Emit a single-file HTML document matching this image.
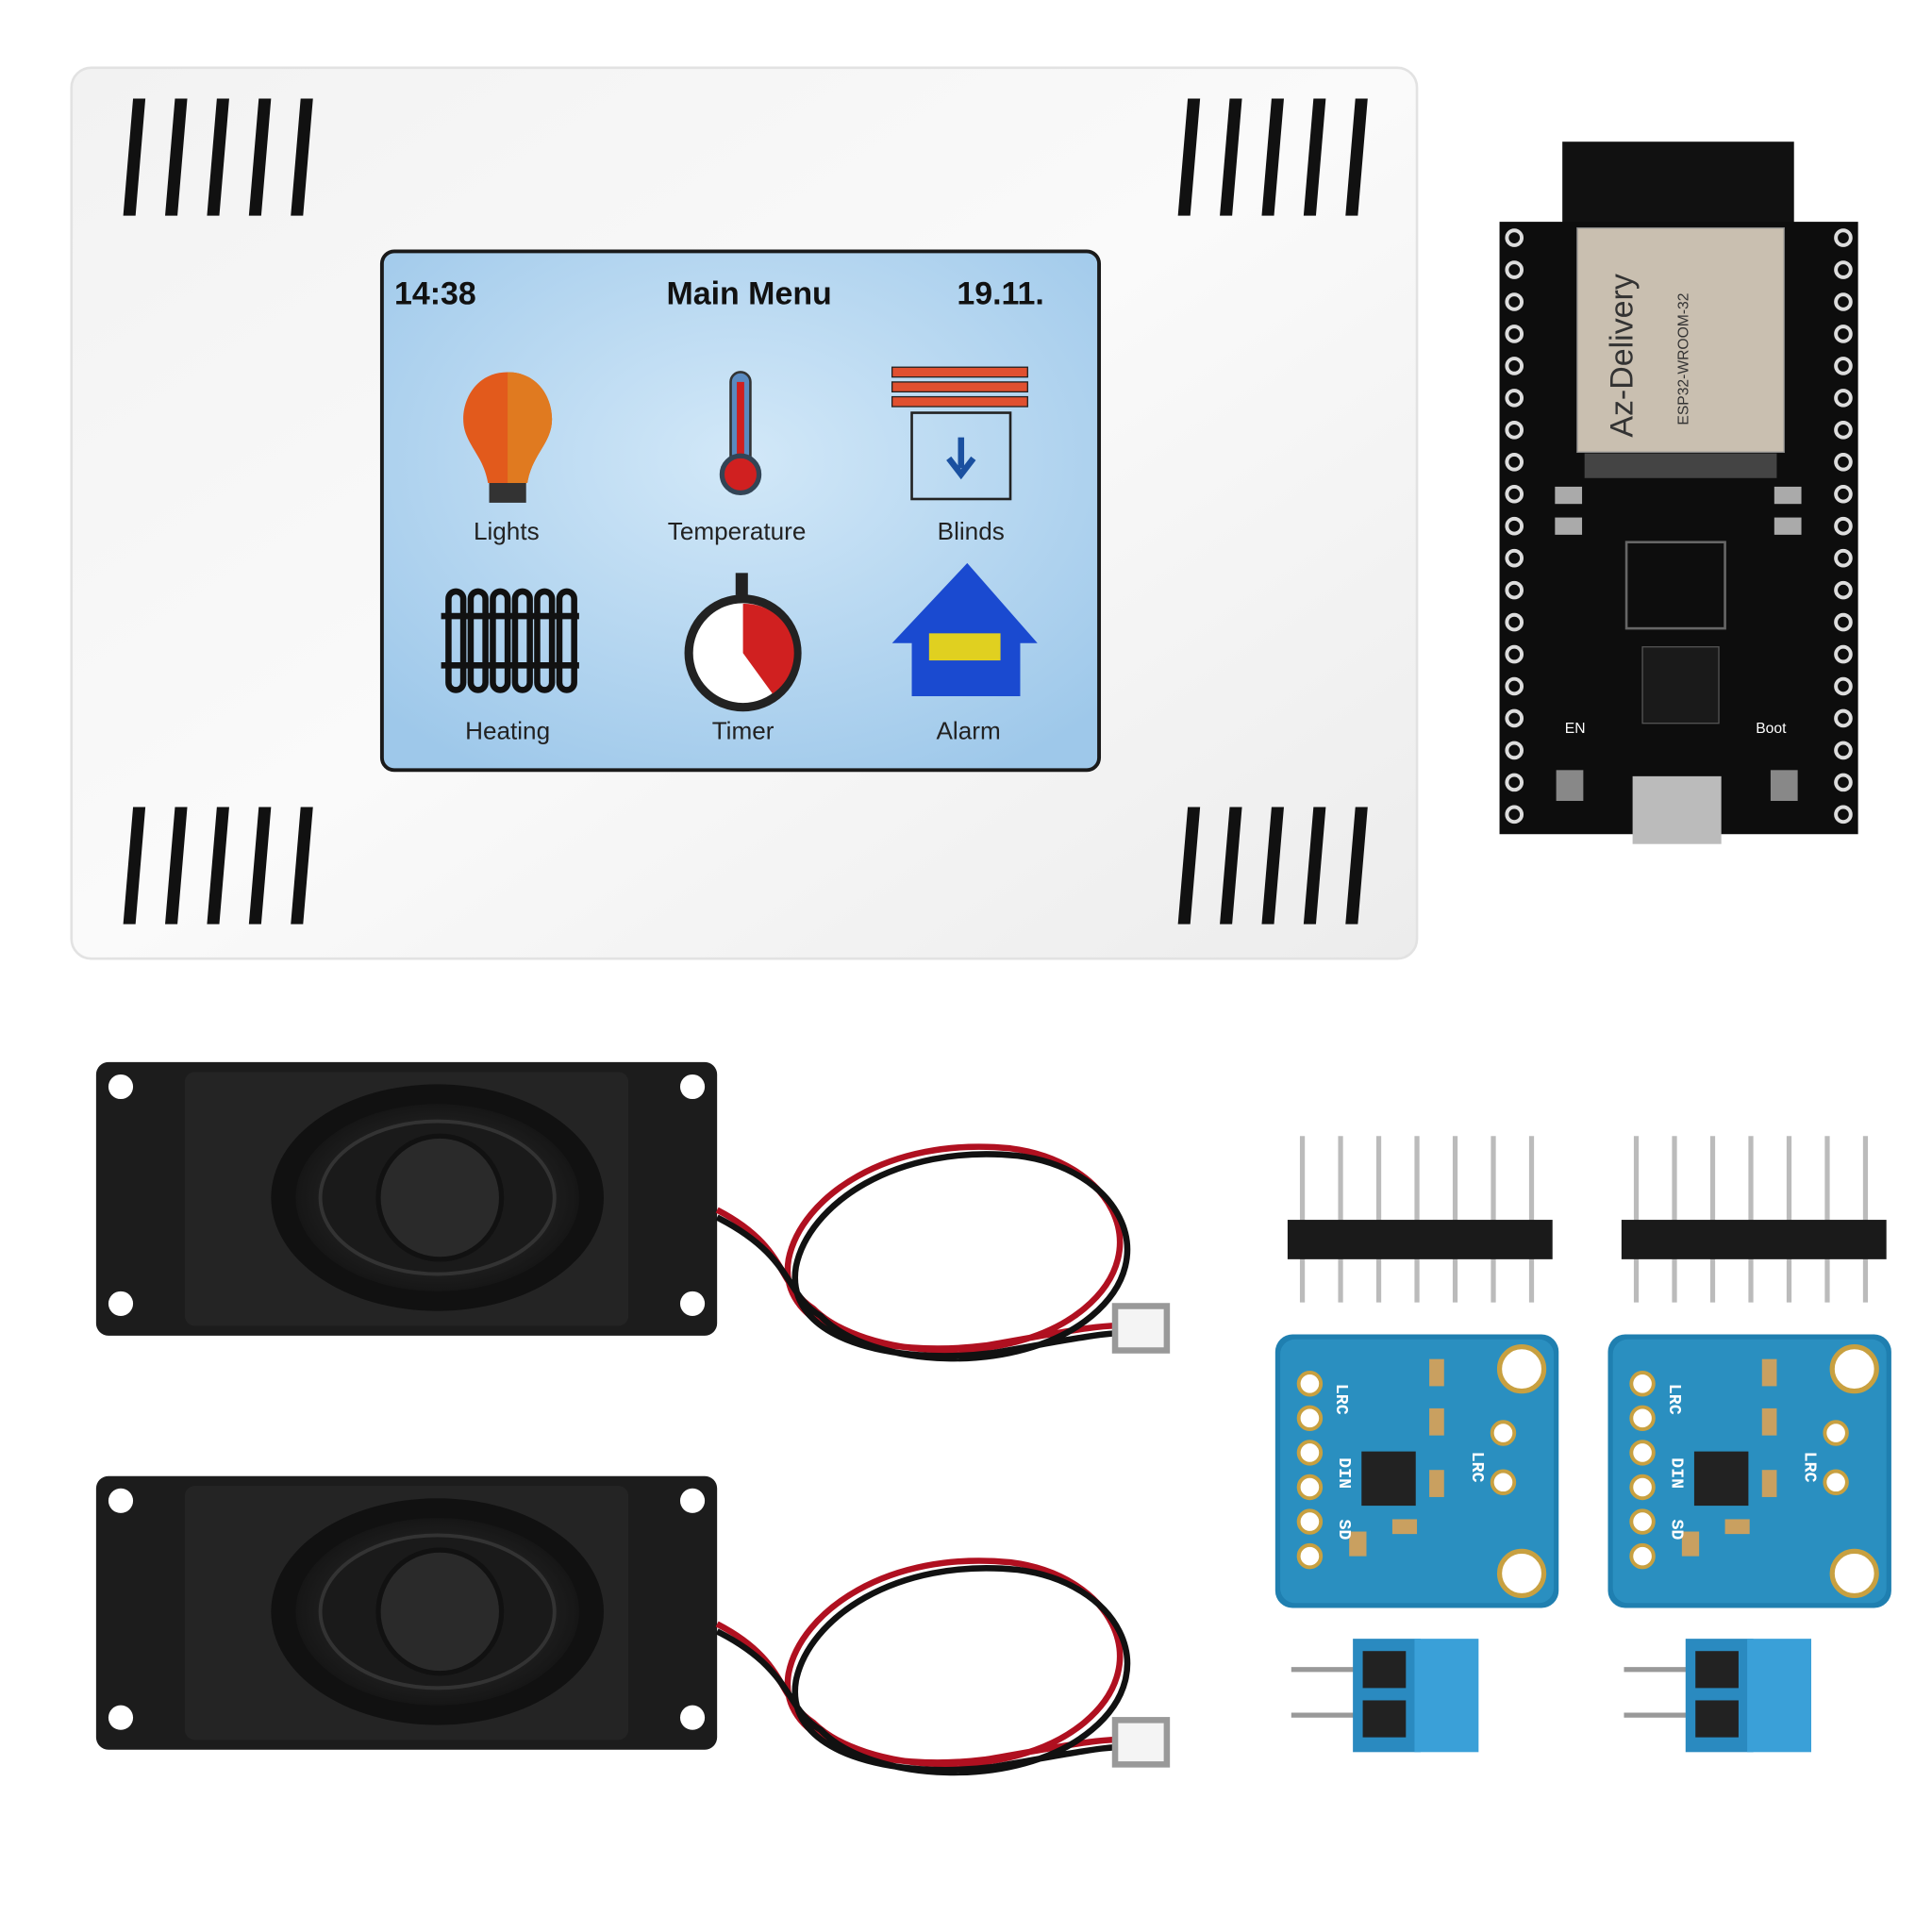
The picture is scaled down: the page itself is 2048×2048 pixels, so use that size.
<!DOCTYPE html>
<html><head><meta charset="utf-8"><style>html,body{margin:0;padding:0;background:#fff}svg{display:block}</style></head>
<body>
<svg width="2048" height="2048" viewBox="0 0 1568 1568" xmlns="http://www.w3.org/2000/svg" font-family="Liberation Sans, sans-serif">
<defs>
<linearGradient id="enc" x1="0" y1="0" x2="1" y2="1"><stop offset="0" stop-color="#f2f2f2"/><stop offset="0.5" stop-color="#fafafa"/><stop offset="1" stop-color="#ececec"/></linearGradient>
<radialGradient id="scr" cx="0.5" cy="0.4" r="0.7"><stop offset="0" stop-color="#d2e8f8"/><stop offset="1" stop-color="#9ec8ea"/></radialGradient>
<radialGradient id="spk" cx="0.5" cy="0.5" r="0.5"><stop offset="0" stop-color="#3a3a3a"/><stop offset="1" stop-color="#161616"/></radialGradient>
<g id="vent"><path d="M12 0 L22 0 L14 95 L4 95Z" fill="#111"/></g>
<g id="ventset"><use href="#vent" x="0"/><use href="#vent" x="34"/><use href="#vent" x="68"/><use href="#vent" x="102"/><use href="#vent" x="136"/></g>
<g id="speaker">
<rect x="78" y="0" width="504" height="222" rx="10" fill="#1c1c1c"/>
<rect x="150" y="8" width="360" height="206" rx="8" fill="#242424"/>
<circle cx="98" cy="20" r="10" fill="#fff"/><circle cx="98" cy="196" r="10" fill="#fff"/>
<circle cx="562" cy="20" r="10" fill="#fff"/><circle cx="562" cy="196" r="10" fill="#fff"/>
<ellipse cx="355" cy="110" rx="135" ry="92" fill="#111"/>
<ellipse cx="355" cy="110" rx="115" ry="76" fill="url(#spk)"/>
<ellipse cx="355" cy="110" rx="95" ry="62" fill="#1a1a1a" stroke="#333" stroke-width="3"/>
<circle cx="357" cy="110" r="50" fill="#2a2a2a" stroke="#111" stroke-width="4"/>
</g>
<g id="wires" fill="none" stroke-width="5">
<path d="M582 120 C640 150 630 180 660 200 C700 240 820 250 880 200 C940 150 900 80 820 70 C720 60 650 110 640 160 C630 220 720 240 800 230 C860 220 900 210 930 215" stroke="#b01020"/>
<path d="M582 126 C645 158 636 188 666 206 C706 248 826 256 886 206 C946 156 906 86 826 76 C726 66 656 116 646 166 C636 226 726 246 806 236 C866 226 906 216 930 221" stroke="#111"/>
<rect x="905" y="198" width="42" height="36" fill="#f4f4f4" stroke="#999"/>
</g>
<g id="amp">
<rect x="0" y="0" width="230" height="222" rx="14" fill="#1f7fb0"/>
<rect x="4" y="4" width="222" height="214" rx="12" fill="#2a8fc0"/>
<circle cx="200" cy="28" r="18" fill="#fff" stroke="#c8a040" stroke-width="4"/>
<circle cx="200" cy="194" r="18" fill="#fff" stroke="#c8a040" stroke-width="4"/>
<g fill="#fff" stroke="#c8a040" stroke-width="3"><circle cx="28" cy="40" r="9"/><circle cx="28" cy="68" r="9"/><circle cx="28" cy="96" r="9"/><circle cx="28" cy="124" r="9"/><circle cx="28" cy="152" r="9"/><circle cx="28" cy="180" r="9"/><circle cx="185" cy="80" r="9"/><circle cx="185" cy="120" r="9"/></g>
<rect x="70" y="95" width="44" height="44" fill="#222"/>
<g fill="#c9a060"><rect x="125" y="20" width="12" height="22"/><rect x="125" y="60" width="12" height="22"/><rect x="125" y="110" width="12" height="22"/><rect x="95" y="150" width="20" height="12"/><rect x="60" y="160" width="14" height="20"/></g>
<g fill="#fff" font-size="14" font-weight="bold" font-family="Liberation Mono, monospace"><text transform="translate(50 40) rotate(90)">LRC</text><text transform="translate(52 100) rotate(90)">DIN</text><text transform="translate(52 150) rotate(90)">SD</text><text transform="translate(160 95) rotate(90)">LRC</text></g>
</g>
<g id="hdr">
<g stroke="#bbb" stroke-width="4"><line x1="12" y1="0" x2="12" y2="135"/><line x1="43" y1="0" x2="43" y2="135"/><line x1="74" y1="0" x2="74" y2="135"/><line x1="105" y1="0" x2="105" y2="135"/><line x1="136" y1="0" x2="136" y2="135"/><line x1="167" y1="0" x2="167" y2="135"/><line x1="198" y1="0" x2="198" y2="135"/></g>
<rect x="0" y="68" width="215" height="32" fill="#1a1a1a"/>
</g>
<g id="term">
<line x1="0" y1="25" x2="60" y2="25" stroke="#999" stroke-width="4"/><line x1="0" y1="62" x2="60" y2="62" stroke="#999" stroke-width="4"/>
<rect x="50" y="0" width="55" height="92" fill="#2a8ac0"/>
<rect x="100" y="0" width="52" height="92" fill="#3aa0d8"/>
<rect x="58" y="10" width="35" height="30" fill="#222"/><rect x="58" y="50" width="35" height="30" fill="#222"/>
</g>
</defs>

<!-- enclosure -->
<rect x="58" y="55" width="1092" height="723" rx="16" fill="url(#enc)" stroke="#e2e2e2" stroke-width="2"/>
<use href="#ventset" x="96" y="80"/>
<use href="#ventset" x="952" y="80"/>
<use href="#ventset" x="96" y="655"/>
<use href="#ventset" x="952" y="655"/>
<rect x="310" y="204" width="582" height="421" rx="10" fill="url(#scr)" stroke="#1a1a1a" stroke-width="3"/>
<g font-weight="bold" font-size="26" fill="#111">
<text x="320" y="247">14:38</text><text x="608" y="247" text-anchor="middle">Main Menu</text><text x="812" y="247" text-anchor="middle">19.11.</text></g>
<g font-size="20" fill="#222" text-anchor="middle">
<text x="411" y="438">Lights</text><text x="598" y="438">Temperature</text><text x="788" y="438">Blinds</text>
<text x="412" y="600">Heating</text><text x="603" y="600">Timer</text><text x="786" y="600">Alarm</text></g>
<!-- bulb -->
<path d="M412 302 C388 302 376 322 376 340 C376 360 392 368 396 392 L428 392 C432 368 448 360 448 340 C448 322 436 302 412 302Z" fill="#e25a1c"/>
<path d="M412 302 C436 302 448 322 448 340 C448 360 432 368 428 392 L412 392Z" fill="#e07a20"/>
<rect x="397" y="392" width="30" height="16" fill="#333"/>
<!-- thermometer -->
<rect x="593" y="302" width="16" height="78" rx="8" fill="#5a8ac0" stroke="#333" stroke-width="2"/>
<rect x="598" y="310" width="6" height="70" fill="#d02020"/>
<circle cx="601" cy="385" r="15" fill="#d02020" stroke="#345" stroke-width="4"/>
<!-- blinds -->
<rect x="724" y="298" width="110" height="8" fill="#e05030" stroke="#222"/><rect x="724" y="310" width="110" height="8" fill="#e05030" stroke="#222"/><rect x="724" y="322" width="110" height="8" fill="#e05030" stroke="#222"/>
<rect x="740" y="335" width="80" height="70" fill="none" stroke="#222" stroke-width="2"/>
<path d="M780 355 V380 M770 372 L780 385 L790 372" stroke="#1a50a0" stroke-width="5" fill="none"/>
<!-- radiator -->
<g fill="none" stroke="#111" stroke-width="5"><rect x="364" y="480" width="12" height="80" rx="6"/><rect x="382" y="480" width="12" height="80" rx="6"/><rect x="400" y="480" width="12" height="80" rx="6"/><rect x="418" y="480" width="12" height="80" rx="6"/><rect x="436" y="480" width="12" height="80" rx="6"/><rect x="454" y="480" width="12" height="80" rx="6"/><line x1="358" y1="500" x2="470" y2="500"/><line x1="358" y1="540" x2="470" y2="540"/></g>
<!-- timer -->
<rect x="597" y="465" width="10" height="18" fill="#222"/>
<circle cx="603" cy="530" r="44" fill="#fff" stroke="#222" stroke-width="7"/>
<path d="M603 530 L603 490 A40 40 0 0 1 627 563 Z" fill="#d02020"/>
<!-- house -->
<path d="M724 522 L785 457 L842 522 L828 522 L828 565 L740 565 L740 522Z" fill="#1a4ad0"/>
<rect x="754" y="514" width="58" height="22" fill="#e0d020"/>

<!-- ESP32 -->
<rect x="1268" y="115" width="188" height="75" fill="#111"/>
<rect x="1217" y="180" width="291" height="497" fill="#0d0d0d"/>
<rect x="1280" y="185" width="168" height="182" fill="#c9bfb0" stroke="#888"/>
<rect x="1286" y="368" width="156" height="20" fill="#444"/>
<g fill="#aaa">
<rect x="1262" y="395" width="22" height="14"/><rect x="1262" y="420" width="22" height="14"/><rect x="1440" y="395" width="22" height="14"/><rect x="1440" y="420" width="22" height="14"/></g>
<rect x="1333" y="525" width="62" height="62" fill="#1a1a1a" stroke="#555"/>
<rect x="1320" y="440" width="80" height="70" fill="none" stroke="#666" stroke-width="2"/>
<rect x="1325" y="630" width="72" height="55" fill="#bbb"/>
<rect x="1263" y="625" width="22" height="25" fill="#888"/><rect x="1437" y="625" width="22" height="25" fill="#888"/>
<g fill="#0d0d0d" stroke="#ddd" stroke-width="3">
<circle cx="1229" cy="193" r="6"/><circle cx="1229" cy="219" r="6"/><circle cx="1229" cy="245" r="6"/><circle cx="1229" cy="271" r="6"/><circle cx="1229" cy="297" r="6"/><circle cx="1229" cy="323" r="6"/><circle cx="1229" cy="349" r="6"/><circle cx="1229" cy="375" r="6"/><circle cx="1229" cy="401" r="6"/><circle cx="1229" cy="427" r="6"/><circle cx="1229" cy="453" r="6"/><circle cx="1229" cy="479" r="6"/><circle cx="1229" cy="505" r="6"/><circle cx="1229" cy="531" r="6"/><circle cx="1229" cy="557" r="6"/><circle cx="1229" cy="583" r="6"/><circle cx="1229" cy="609" r="6"/><circle cx="1229" cy="635" r="6"/><circle cx="1229" cy="661" r="6"/>
<circle cx="1496" cy="193" r="6"/><circle cx="1496" cy="219" r="6"/><circle cx="1496" cy="245" r="6"/><circle cx="1496" cy="271" r="6"/><circle cx="1496" cy="297" r="6"/><circle cx="1496" cy="323" r="6"/><circle cx="1496" cy="349" r="6"/><circle cx="1496" cy="375" r="6"/><circle cx="1496" cy="401" r="6"/><circle cx="1496" cy="427" r="6"/><circle cx="1496" cy="453" r="6"/><circle cx="1496" cy="479" r="6"/><circle cx="1496" cy="505" r="6"/><circle cx="1496" cy="531" r="6"/><circle cx="1496" cy="557" r="6"/><circle cx="1496" cy="583" r="6"/><circle cx="1496" cy="609" r="6"/><circle cx="1496" cy="635" r="6"/><circle cx="1496" cy="661" r="6"/></g>
<text transform="translate(1325 355) rotate(-90)" font-size="26" fill="#333">Az-Delivery</text>
<text transform="translate(1370 345) rotate(-90)" font-size="12" fill="#333">ESP32-WROOM-32</text>
<text x="1270" y="595" font-size="12" fill="#fff">EN</text><text x="1425" y="595" font-size="12" fill="#fff">Boot</text>

<!-- speakers -->
<use href="#speaker" x="0" y="862"/>
<use href="#wires" x="0" y="862"/>
<use href="#speaker" x="0" y="1198"/>
<use href="#wires" x="0" y="1198"/>

<!-- amps -->
<use href="#hdr" x="1045" y="922"/>
<use href="#hdr" x="1316" y="922"/>
<use href="#amp" x="1035" y="1083"/>
<use href="#amp" x="1305" y="1083"/>
<use href="#term" x="1048" y="1330"/>
<use href="#term" x="1318" y="1330"/>
</svg>
</body></html>
